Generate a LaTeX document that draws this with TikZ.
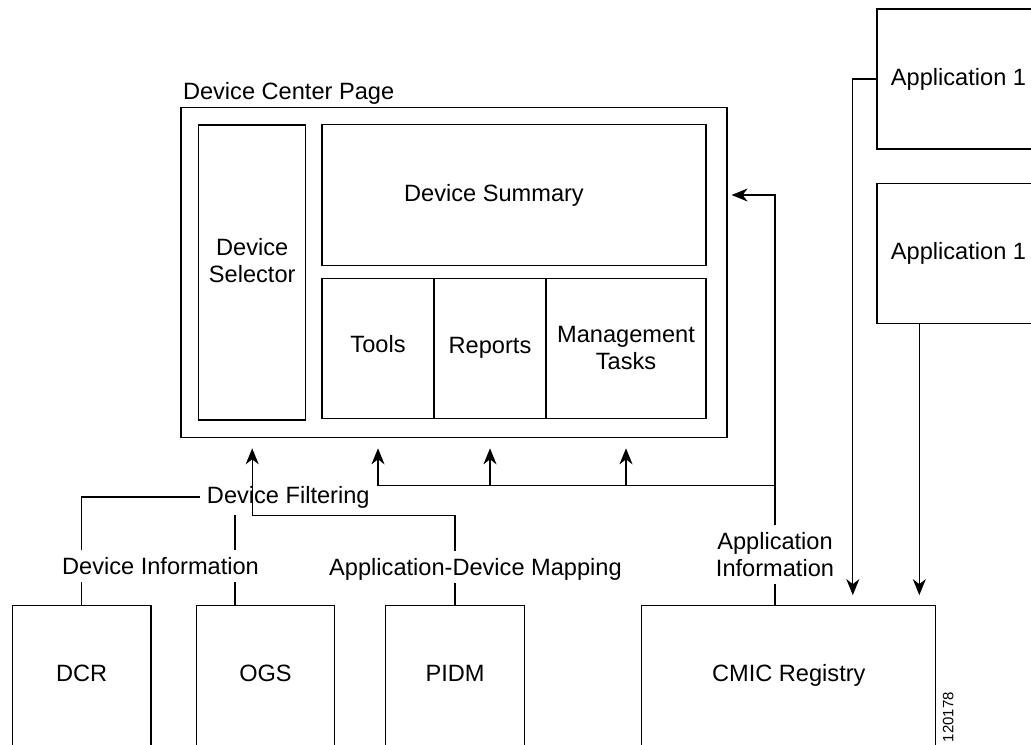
\documentclass[tikz,border=0pt]{standalone}
\usepackage{fontspec}
\setmainfont{Liberation Sans}
\usetikzlibrary{arrows.meta, positioning}

\begin{document}
\begin{tikzpicture}[x=0.5pt, y=-0.5pt, on grid, line width=0.6pt,
    >={Stealth[length=8pt,width=6.5pt,inset=2.5pt]},
    font=\fontsize{11.8pt}{13.4pt}\selectfont]
    \tikzstyle{panel}=[shape=rectangle, draw, inner sep=0pt, align=center]
    \tikzstyle{source}=[panel, minimum width=69.25pt, text height=37.9pt, text depth=40pt]
    \tikzstyle{tag}=[inner sep=3.4pt, align=center]

    \useasboundingbox (0,0) rectangle (1031,744);

    % device center page
    \node[panel, minimum width=273pt, minimum height=165.2pt] (page) at (454,272.5) {};
    \node[anchor=south west, inner sep=1pt] (pagetitle) at (page.north west) {Device Center Page};
    \node[panel, minimum width=53.5pt, minimum height=147.5pt, text depth=12pt] (selector) at (252.2,272.5) {Device\\Selector};
    \node[panel, minimum width=192pt, minimum height=70.3pt] (summary) at (514,195) {Device Summary\hspace*{20pt}};
    \node[panel, minimum width=56pt, minimum height=70pt, text depth=4pt] (tools) at (378,348.3) {Tools};
    \node[panel, minimum width=56pt, minimum height=70pt, node distance=56pt, right of=tools] (reports) {Reports};
    \node[panel, minimum width=80pt, minimum height=70pt, node distance=68pt, right of=reports] (mgmt) {Management\\Tasks};

    % applications
    \node[panel, minimum width=81.5pt, minimum height=70pt] (app1a) at (958.5,79) {Application 1};
    \node[panel, minimum width=81.5pt, minimum height=70pt, node distance=87.15pt, below of=app1a] (app1b) {Application 1};

    % data sources
    \node[source] (DCR) at (81.7,683.6) {DCR};
    \node[source, node distance=91.9pt, right of=DCR] (OGS) {OGS};
    \node[source, node distance=94.75pt, right of=OGS] (PIDM) {PIDM};
    \node[source, minimum width=147pt, node distance=166.9pt, right of=PIDM] (CMIC) {CMIC Registry};

    % labels on the lines
    \node[tag] (filter) at (288.3,496.9) {Device Filtering};
    \node[tag] (devinfo) at (160.5,566.4) {Device Information};
    \node[tag, text depth=0pt] (admap) at (475.5,567.4) {Application-Device Mapping};
    \node[tag] (appinfo) at (775,554.75) {Application\\Information};
    \coordinate[below=23.5pt of page.south] (bus);

    \draw (DCR.north) -- (DCR |- devinfo.south);
    \draw (devinfo.north -| DCR) |- (filter.west);
    \draw ([xshift=37.25pt]devinfo.south) -- ([xshift=37.25pt]devinfo.south |- OGS.north);
    \draw ([xshift=37.25pt]devinfo.north) -- ([xshift=37.25pt]devinfo.north |- filter.south);
    \draw (PIDM.north) -- (PIDM |- admap.south);
    \draw[->, shorten >=5pt] (PIDM |- admap.north) |- (selector |- filter.south) -- (selector |- page.south);

    \draw (appinfo.south) -- (appinfo |- CMIC.north);
    \draw[->, shorten >=2pt] (appinfo.north) |- (page.east |- summary);
    \draw[->, shorten >=5pt] (appinfo |- bus) -| (tools |- page.south);
    \draw[->, shorten >=5pt] (reports |- bus) -- (reports |- page.south);
    \draw[->, shorten >=5pt] (mgmt |- bus) -- (mgmt |- page.south);

    \draw[->, shorten >=5pt] (app1a.west) -| ([xshift=32pt]CMIC.north);
    \draw[->, shorten >=5pt] ([xshift=-19.6pt]app1b.south) -- ([xshift=-19.6pt]app1b.south |- CMIC.north);

    \node[rotate=90, anchor=base east, inner sep=0pt, font=\fontsize{7.5pt}{8pt}\selectfont] (fignum) at (953.3,691.5) {120178};
\end{tikzpicture}
\end{document}
